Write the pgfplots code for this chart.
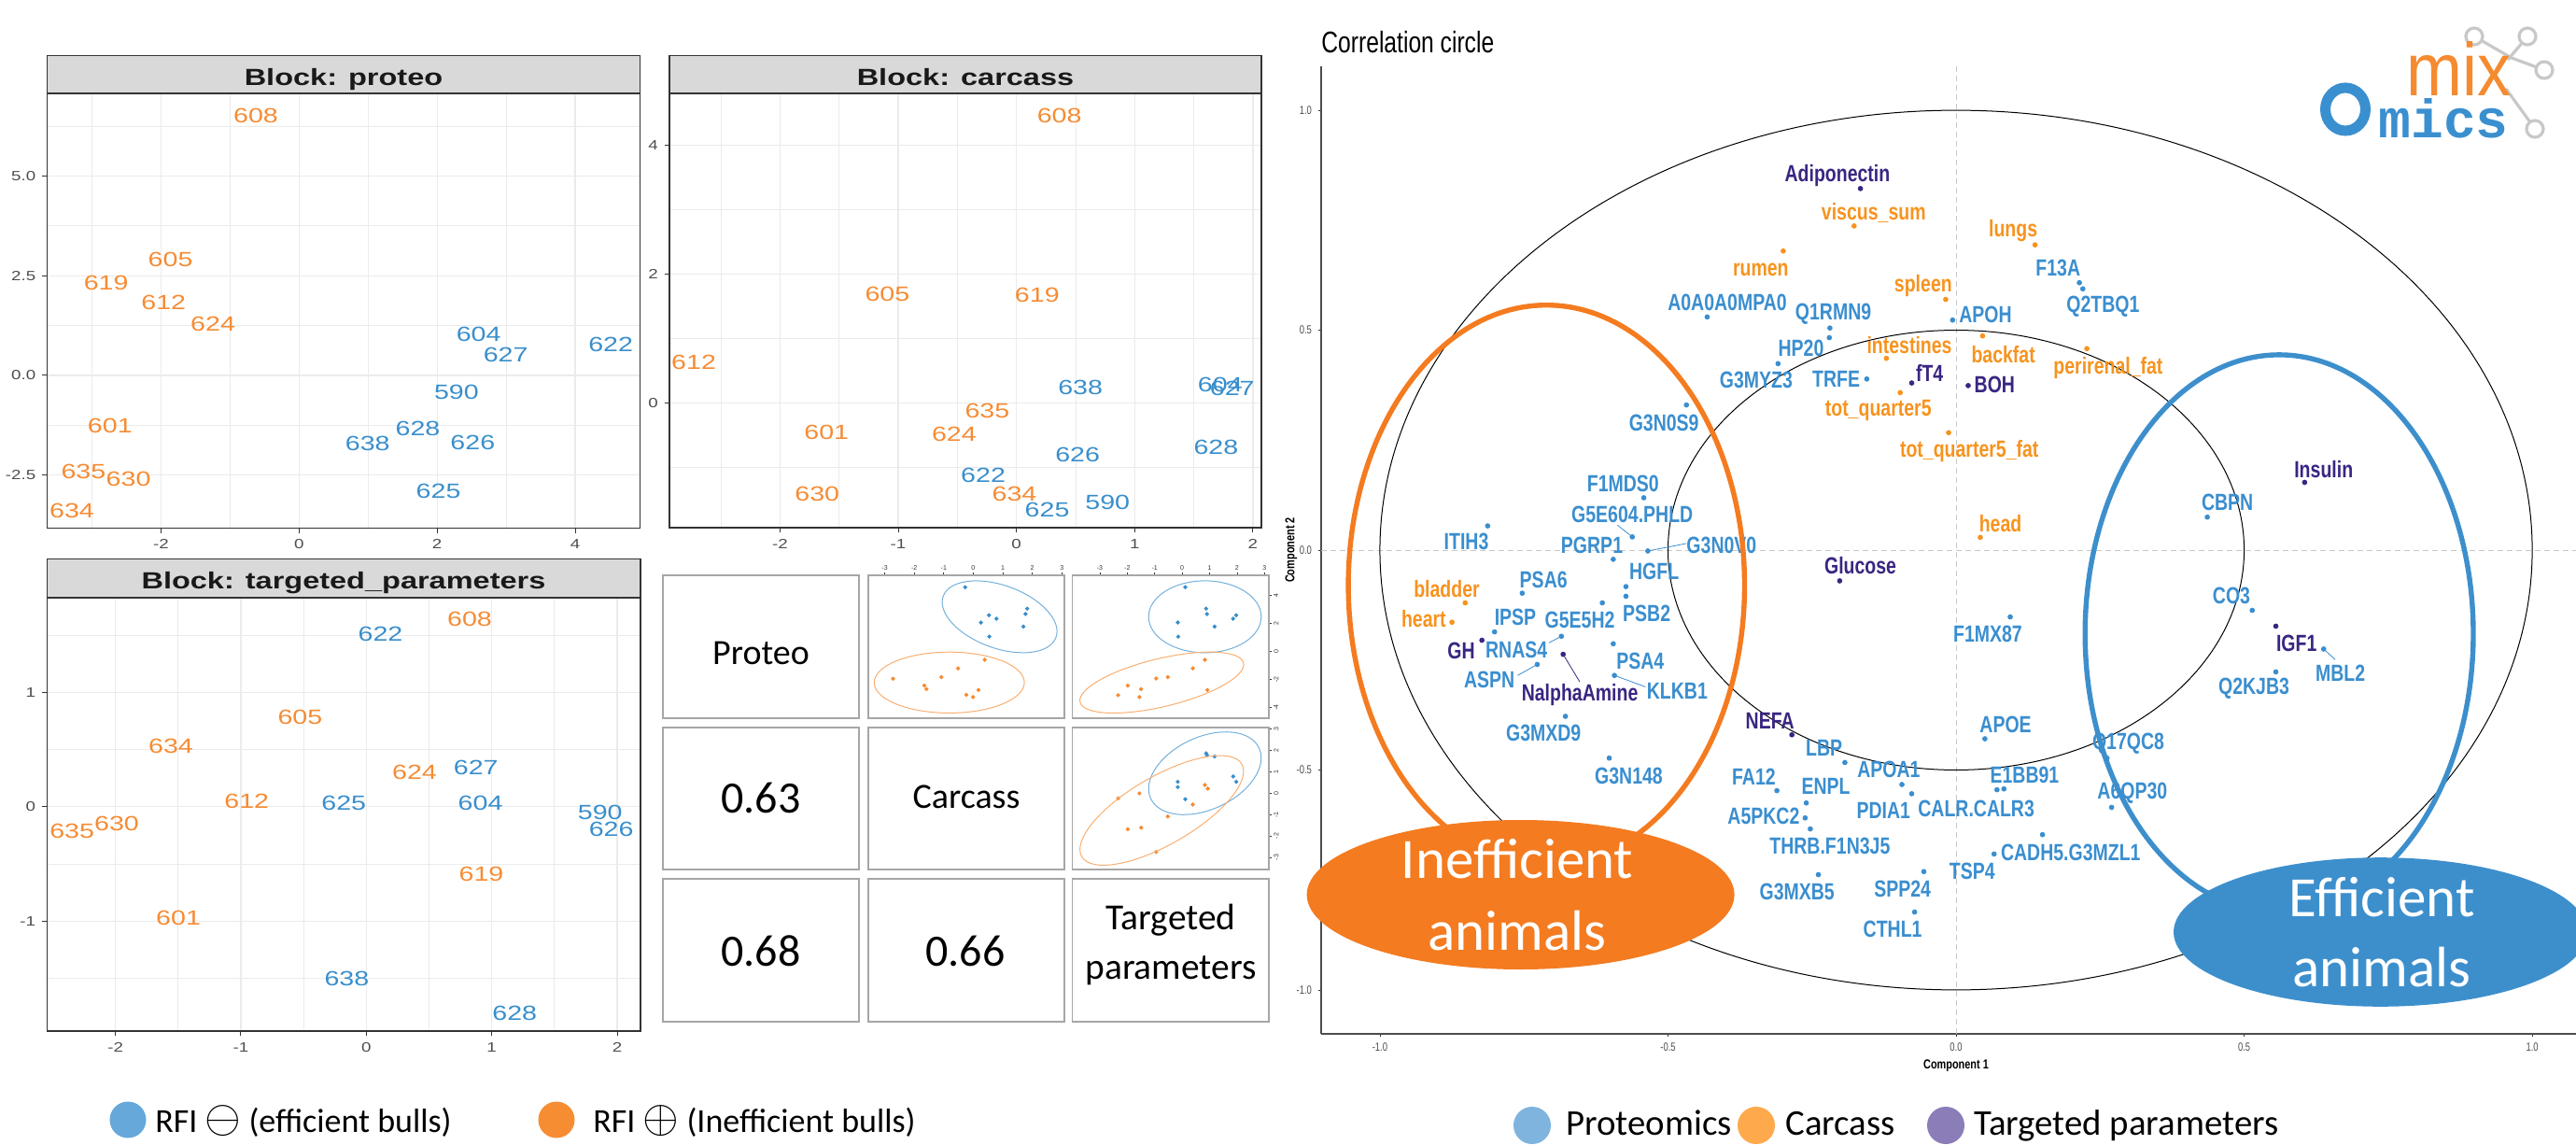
\documentclass[border=0pt]{standalone}
\usepackage{fontspec}
\usepackage{pgfplots}
\pgfplotsset{compat=1.18}
\setmainfont{Liberation Sans}
\newfontfamily\wideF{Liberation Sans}[FakeStretch=1.3]
\newfontfamily\narF{Liberation Sans}[FakeStretch=0.78]
\newfontfamily\tinyF{Liberation Sans}[FakeStretch=0.75]
\newfontfamily\titF{Liberation Sans}[FakeStretch=0.77]
\newfontfamily\calF{Carlito}
\newfontfamily\monoF{Liberation Mono}
\newfontfamily\mixF{Liberation Sans}[FakeStretch=0.9]
\definecolor{mblue}{HTML}{388ECC}
\definecolor{morange}{HTML}{F68B33}
\definecolor{lblue}{HTML}{3A8ECF}
\definecolor{lorange}{HTML}{F7931E}
\definecolor{lpurple}{HTML}{3A2581}
\definecolor{c333}{HTML}{333333}
\definecolor{c4d}{HTML}{4D4D4D}
\definecolor{gridc}{HTML}{EBEBEB}
\definecolor{stripc}{HTML}{D9D9D9}
\definecolor{cellc}{HTML}{A6A6A6}
\definecolor{eorange}{HTML}{F47B20}
\definecolor{eblue}{HTML}{3D8FCC}
\definecolor{dashc}{HTML}{C8C8C8}
\definecolor{legpb}{HTML}{7FB4DE}
\definecolor{legco}{HTML}{FFA94D}
\definecolor{legtp}{HTML}{8B7DB8}
\definecolor{legeb}{HTML}{66A8DA}
\definecolor{legio}{HTML}{F78D33}
\definecolor{logog}{HTML}{C8C8C8}
\definecolor{logob}{HTML}{3A8FCF}
\definecolor{logoo}{HTML}{F58B30}
\pgfplotsset{
 ggpanel/.style={anchor=north west, scale only axis,
   axis line style={draw=c333, line width=0.75pt},
   grid=both, major grid style={draw=gridc, line width=0.6pt},
   minor grid style={draw=gridc, line width=0.35pt},
   tick align=outside, tick pos=left, major tick length=2.6pt, minor tick length=0pt,
   tick style={draw=c333, line width=0.5pt},
   ticklabel style={font=\wideF\fontsize{7.2}{8}\selectfont, text=c4d}},
 samp/.style={draw=none, mark=none, nodes near coords, point meta=explicit symbolic,
   nodes near coords align=center,
   every node near coord/.append style={text=#1, inner sep=0pt, font=\wideF\fontsize{11}{13}\selectfont}},
 clab/.style={draw=none, mark=none, nodes near coords, point meta=explicit symbolic,
   nodes near coords align=center,
   every node near coord/.append style={text=#1, inner sep=0pt, font=\narF\bfseries\fontsize{12.5}{14}\selectfont}},
 cdot/.style={only marks, mark=*, mark size=1.2pt, color=#1},
 mini/.style={anchor=north west, scale only axis, tick align=outside, major tick length=1.5pt,
   tick style={draw=c333, line width=0.4pt}, axis line style={draw=c333, line width=0.4pt},
   ticklabel style={font=\fontsize{3.5}{4}\selectfont, text=c333, inner sep=1pt}, clip=false},
 mdot/.style={only marks, mark=*, mark size=0.9pt, color=#1},
}
\begin{document}
\begin{tikzpicture}
\path[use as bounding box] (0,0) rectangle (1379.5pt,-613pt);

% ---------------- Block: proteo
\begin{axis}[ggpanel, at={(25.25pt,-50pt)}, width=317.5pt, height=232.75pt,
 xmin=-3.65, xmax=4.94, ymin=-3.83, ymax=7.07,
 xtick={-2,0,2,4}, xticklabels={-2,0,2,4}, minor xtick={-3,-1,1,3},
 ytick={-2.5,0,2.5,5}, yticklabels={-2.5,0.0,2.5,5.0}, minor ytick={-1.25,1.25,3.75,6.25}]
\addplot[samp=morange] coordinates {(-0.627,6.52)[608] (-1.863,2.903)[605] (-2.795,2.315)[619] (-1.963,1.815)[612] (-1.248,1.282)[624] (-2.739,-1.274)[601] (-3.124,-2.403)[635] (-2.472,-2.605)[630] (-3.292,-3.387)[634]};
\addplot[samp=mblue] coordinates {(2.602,1.040)[604] (2.994,0.516)[627] (4.516,0.782)[622] (2.280,-0.411)[590] (1.720,-1.331)[628] (0.994,-1.718)[638] (2.516,-1.677)[626] (2.019,-2.911)[625]};
\end{axis}

% ---------------- Block: carcass
\begin{axis}[ggpanel, at={(358.5pt,-50pt)}, width=317pt, height=232.5pt,
 xmin=-2.935, xmax=2.072, ymin=-1.94, ymax=4.80,
 xtick={-2,-1,0,1,2}, xticklabels={-2,-1,0,1,2}, minor xtick={-2.5,-1.5,-0.5,0.5,1.5},
 ytick={0,2,4}, yticklabels={0,2,4}, minor ytick={-1,1,3}]
\addplot[samp=morange] coordinates {(0.363,4.450)[608] (-1.092,1.687)[605] (0.175,1.671)[619] (-2.729,0.621)[612] (-0.247,-0.124)[635] (-1.606,-0.461)[601] (-0.527,-0.492)[624] (-1.685,-1.423)[630] (-0.017,-1.423)[634]};
\addplot[samp=mblue] coordinates {(0.541,0.238)[638] (1.723,0.274)[604] (1.825,0.222)[627] (0.517,-0.802)[626] (1.688,-0.699)[628] (-0.281,-1.133)[622] (0.260,-1.666)[625] (0.771,-1.547)[590]};
\end{axis}

% ---------------- Block: targeted_parameters
\begin{axis}[ggpanel, at={(25.2pt,-320pt)}, width=317.8pt, height=232pt,
 xmin=-2.545, xmax=2.186, ymin=-1.962, ymax=1.828,
 xtick={-2,-1,0,1,2}, xticklabels={-2,-1,0,1,2}, minor xtick={-1.5,-0.5,0.5,1.5},
 ytick={-1,0,1}, yticklabels={-1,0,1}, minor ytick={-1.5,-0.5,0.5,1.5}]
\addplot[samp=morange] coordinates {(0.824,1.641)[608] (-0.528,0.787)[605] (-1.558,0.534)[634] (0.385,0.300)[624] (-0.953,0.050)[612] (-2.346,-0.210)[635] (-1.990,-0.146)[630] (0.917,-0.589)[619] (-1.498,-0.971)[601]};
\addplot[samp=mblue] coordinates {(0.113,1.507)[622] (0.874,0.341)[627] (-0.179,0.029)[625] (0.910,0.029)[604] (1.864,-0.050)[590] (1.953,-0.195)[626] (-0.156,-1.507)[638] (1.183,-1.808)[628]};
\end{axis}

% ---------------- mini scatter (1,2)
\begin{axis}[mini, at={(465pt,-308pt)}, width=105pt, height=76.5pt,
 xmin=-3.557, xmax=3.089, ymin=-4.78, ymax=5.42,
 axis x line*=top, axis y line=none, xtick={-3,-2,-1,0,1,2,3}, xticklabels={-3,-2,-1,0,1,2,3}, ytick=\empty]
\addplot[mdot=mblue] coordinates {(-0.275,4.57) (0.53,2.57) (0.784,2.32) (0.261,2.05) (0.544,1.04) (1.828,3.04) (1.772,2.66) (1.70,1.76)};
\addplot[mdot=morange] coordinates {(-2.718,-1.96) (-1.659,-2.45) (-1.588,-2.70) (-1.08,-1.85) (-0.515,-1.22) (0.388,-0.61) (0.177,-2.77) (-0.233,-3.11) (-0.007,-3.27)};
\end{axis}

% ---------------- mini scatter (1,3)
\begin{axis}[mini, at={(574.25pt,-308pt)}, width=105.25pt, height=76.5pt,
 xmin=-4.0, xmax=3.16, ymin=-4.78, ymax=5.42,
 axis x line*=top, axis y line*=right, xtick={-3,-2,-1,0,1,2,3}, xticklabels={-3,-2,-1,0,1,2,3},
 ytick={-4,-2,0,2,4}, yticklabels={-4,-2,0,2,4}, yticklabel style={rotate=90, anchor=north}]
\addplot[mdot=mblue] coordinates {(0.115,4.57) (0.875,3.04) (0.906,2.66) (-0.158,2.05) (1.18,1.76) (1.97,2.57) (1.86,2.32) (-0.143,1.04)};
\addplot[mdot=morange] coordinates {(0.83,-0.61) (0.389,-1.22) (-0.523,-1.85) (-0.948,-1.94) (-1.98,-2.45) (-1.495,-2.70) (-2.33,-3.13) (-1.556,-3.27) (0.92,-2.77)};
\end{axis}

% ---------------- mini scatter (2,3)
\begin{axis}[mini, at={(574.25pt,-389.5pt)}, width=105.25pt, height=76pt,
 xmin=-4.0, xmax=3.16, ymin=-3.56, ymax=3.06,
 axis x line=none, axis y line*=right, xtick=\empty,
 ytick={-3,-2,-1,0,1,2,3}, yticklabels={-3,-2,-1,0,1,2,3}, yticklabel style={rotate=90, anchor=north}]
\addplot[mdot=mblue] coordinates {(0.875,1.86) (0.906,1.78) (1.18,1.71) (-0.158,0.53) (-0.158,0.28) (0.115,-0.28) (1.86,0.78) (1.97,0.53)};
\addplot[mdot=morange] coordinates {(-2.33,-0.24) (-1.556,-0.01) (0.83,0.38) (0.935,0.21) (0.389,-0.53) (-0.523,-1.09) (-1.98,-1.68) (-1.495,-1.61) (-0.948,-2.74)};
\end{axis}

% ---------------- Correlation circle
\begin{axis}[at={(707.5pt,-35.5pt)}, anchor=north west, scale only axis, width=672pt, height=518pt,
 xmin=-1.102, xmax=1.076, ymin=-1.1, ymax=1.1,
 axis x line*=bottom, axis y line*=left, axis line style={draw=c4d, line width=0.8pt},
 xtick={-1,-0.5,0,0.5,1}, xticklabels={-1.0,-0.5,0.0,0.5,1.0},
 ytick={-1,-0.5,0,0.5,1}, yticklabels={-1.0,-0.5,0.0,0.5,1.0},
 tick align=outside, major tick length=1.5pt, tick style={draw=c333, line width=0.4pt},
 ticklabel style={font=\tinyF\fontsize{6.3}{7}\selectfont, text=c4d}]
\addplot[dashc, line width=0.5pt, dash pattern=on 3pt off 2pt] coordinates {(0,-1.1) (0,1.1)};
\addplot[dashc, line width=0.5pt, dash pattern=on 3pt off 2pt] coordinates {(-1.102,0) (1.076,0)};
\draw[black, line width=0.5pt] (axis cs:0,0) ellipse [x radius=308.54pt, y radius=235.45pt];
\draw[black, line width=0.5pt] (axis cs:0,0) ellipse [x radius=154.27pt, y radius=117.73pt];
% leader lines
\addplot[lblue, line width=0.4pt] coordinates {(-0.588,0.057) (-0.562,0.030)};
\addplot[lblue, line width=0.4pt] coordinates {(-0.468,0.015) (-0.535,-0.002)};
\addplot[lblue, line width=0.4pt] coordinates {(-0.707,-0.211) (-0.685,-0.196)};
\addplot[lblue, line width=0.4pt] coordinates {(-0.761,-0.285) (-0.727,-0.260)};
\addplot[lpurple, line width=0.4pt] coordinates {(-0.653,-0.300) (-0.682,-0.237)};
\addplot[lblue, line width=0.4pt] coordinates {(-0.539,-0.311) (-0.593,-0.285)};
\addplot[lblue, line width=0.4pt] coordinates {(0.658,-0.249) (0.638,-0.225)};
% proteomics dots
\addplot[cdot=lblue] coordinates {(-0.432,0.530) (-0.219,0.505) (-0.220,0.483) (-0.309,0.424) (-0.155,0.389) (-0.006,0.523) (0.214,0.608) (0.220,0.594) (-0.468,0.330) (-0.542,0.119) (-0.562,0.030) (-0.813,0.055) (-0.595,-0.021) (-0.535,-0.002) (-0.573,-0.083) (-0.753,-0.098) (-0.573,-0.105) (-0.801,-0.186) (-0.614,-0.120) (-0.685,-0.196) (-0.595,-0.213) (-0.727,-0.260) (-0.593,-0.285) (-0.678,-0.378) (-0.602,-0.473) (0.436,0.075) (0.094,-0.152) (0.514,-0.137) (0.638,-0.225) (0.555,-0.277) (0.050,-0.429) (0.262,-0.473) (-0.193,-0.483) (-0.094,-0.533) (0.083,-0.543) (-0.311,-0.547) (-0.260,-0.575) (-0.077,-0.554) (0.071,-0.545) (0.270,-0.585) (-0.262,-0.609) (-0.253,-0.634) (0.150,-0.647) (0.066,-0.691) (-0.056,-0.731) (-0.239,-0.738) (-0.072,-0.823)};
\addplot[clab=lblue] coordinates {(-0.397,0.562)[A0A0A0MPA0] (-0.213,0.536)[Q1RMN9] (-0.269,0.458)[HP20] (-0.347,0.386)[G3MYZ3] (-0.208,0.389)[TRFE] (0.051,0.535)[APOH] (0.177,0.641)[F13A] (0.255,0.553)[Q2TBQ1] (-0.507,0.289)[G3N0S9] (-0.578,0.150)[F1MDS0] (-0.562,0.080)[G5E604.PHLD] (-0.850,0.019)[ITIH3] (-0.632,0.011)[PGRP1] (-0.407,0.011)[G3N0V0] (-0.524,-0.049)[HGFL] (-0.716,-0.067)[PSA6] (-0.537,-0.144)[PSB2] (-0.765,-0.153)[IPSP] (-0.653,-0.160)[G5E5H2] (-0.763,-0.228)[RNAS4] (-0.548,-0.253)[PSA4] (-0.810,-0.294)[ASPN] (-0.484,-0.321)[KLKB1] (-0.716,-0.417)[G3MXD9] (-0.568,-0.514)[G3N148] (0.471,0.109)[CBPN] (0.055,-0.190)[F1MX87] (0.478,-0.103)[CO3] (0.667,-0.279)[MBL2] (0.517,-0.315)[Q2KJB3] (0.086,-0.397)[APOE] (0.299,-0.439)[Q17QC8] (-0.229,-0.451)[LBP] (-0.117,-0.498)[APOA1] (0.119,-0.511)[E1BB91] (-0.351,-0.516)[FA12] (-0.226,-0.537)[ENPL] (-0.126,-0.592)[PDIA1] (0.035,-0.588)[CALR.CALR3] (0.306,-0.552)[A6QP30] (-0.334,-0.605)[A5PKC2] (-0.219,-0.672)[THRB.F1N3J5] (0.199,-0.687)[CADH5.G3MZL1] (0.028,-0.731)[TSP4] (-0.093,-0.771)[SPP24] (-0.276,-0.778)[G3MXB5] (-0.110,-0.862)[CTHL1]};
% carcass
\addplot[cdot=lorange] coordinates {(-0.177,0.737) (-0.300,0.680) (0.137,0.694) (-0.018,0.570) (-0.121,0.436) (0.046,0.487) (0.227,0.458) (-0.097,0.358) (-0.013,0.267) (0.042,0.029) (-0.852,-0.120) (-0.875,-0.164)};
\addplot[clab=lorange] coordinates {(-0.143,0.767)[viscus\_sum] (-0.339,0.638)[rumen] (0.099,0.726)[lungs] (-0.057,0.600)[spleen] (-0.081,0.467)[intestines] (0.082,0.444)[backfat] (0.264,0.413)[perirenal\_fat] (-0.135,0.318)[tot\_quarter5] (0.023,0.225)[tot\_quarter5\_fat] (0.077,0.060)[head] (-0.884,-0.089)[bladder] (-0.924,-0.156)[heart]};
% targeted parameters
\addplot[cdot=lpurple] coordinates {(-0.166,0.822) (-0.077,0.380) (0.021,0.374) (0.605,0.154) (-0.202,-0.070) (-0.823,-0.205) (-0.682,-0.237) (0.555,-0.173) (-0.285,-0.420)};
\addplot[clab=lpurple] coordinates {(-0.206,0.852)[Adiponectin] (-0.046,0.402)[fT4] (0.067,0.377)[BOH] (0.638,0.184)[Insulin] (-0.166,-0.036)[Glucose] (-0.859,-0.230)[GH] (-0.653,-0.329)[NalphaAmine] (0.591,-0.212)[IGF1] (-0.323,-0.389)[NEFA]};
\end{axis}

% ---------------- decorations in pixel units
\begin{scope}[x=0.5pt, y=-0.5pt]
% strips
\draw[fill=stripc, draw=c333, line width=0.75pt] (50.5,59.3) rectangle (685.5,100);
\node[anchor=base, inner sep=0, font=\wideF\bfseries\fontsize{12.5}{14}\selectfont, text=black!90] at (368,91.3) {Block: proteo};
\draw[fill=stripc, draw=c333, line width=0.75pt] (717,59.6) rectangle (1351,100);
\node[anchor=base, inner sep=0, font=\wideF\bfseries\fontsize{12.5}{14}\selectfont, text=black!90] at (1034,91.8) {Block: carcass};
\draw[fill=stripc, draw=c333, line width=0.75pt] (50.4,598.6) rectangle (686,640);
\node[anchor=base, inner sep=0, font=\wideF\bfseries\fontsize{12.5}{14}\selectfont, text=black!90] at (368,630) {Block: targeted\_parameters};
% correlation matrix cells
\foreach \xa/\xb in {710/920, 930/1140, 1148.5/1359}{
 \foreach \ya/\yb in {616/769, 779/931, 941/1094}{
  \draw[cellc, line width=0.7pt] (\xa,\ya) rectangle (\xb,\yb);
 }}
\node[anchor=base, inner sep=0, font=\calF\fontsize{19}{22}\selectfont] at (815,711.7) {Proteo};
\node[anchor=base, inner sep=0, font=\calF\fontsize{24}{26}\selectfont] at (815,870.6) {0.63};
\node[anchor=base, inner sep=0, font=\calF\fontsize{19}{22}\selectfont] at (1035,865.5) {Carcass};
\node[anchor=base, inner sep=0, font=\calF\fontsize{24}{26}\selectfont] at (815,1034.6) {0.68};
\node[anchor=base, inner sep=0, font=\calF\fontsize{24}{26}\selectfont] at (1034,1034.6) {0.66};
\node[anchor=base, inner sep=0, font=\calF\fontsize{19.7}{22}\selectfont] at (1254,995.7) {Targeted};
\node[anchor=base, inner sep=0, font=\calF\fontsize{19.7}{22}\selectfont] at (1254,1048) {parameters};
% mini ellipses
\draw[mblue!70, line width=0.5pt, rotate around={-20:(1070.6,660.4)}] (1070.6,660.4) ellipse [x radius=32.15pt, y radius=16.8pt];
\draw[morange!70, line width=0.5pt] (1016.7,730.8) ellipse [x radius=40.2pt, y radius=16.3pt];
\draw[mblue!70, line width=0.5pt] (1290.5,660.4) ellipse [x radius=30.15pt, y radius=19.25pt];
\draw[morange!70, line width=0.5pt, rotate around={13.5:(1244.3,730.8)}] (1244.3,730.8) ellipse [x radius=45pt, y radius=12.85pt];
\draw[mblue!70, line width=0.5pt, rotate around={25:(1290.5,828)}] (1290.5,828) ellipse [x radius=32pt, y radius=19.35pt];
\draw[morange!70, line width=0.5pt, rotate around={30:(1244.3,867.7)}] (1244.3,867.7) ellipse [x radius=49.5pt, y radius=18.2pt];
% correlation circle title and axis labels
\node[anchor=base west, inner sep=0, font=\titF\fontsize{16}{18}\selectfont] at (1415,56) {Correlation circle};
\node[anchor=center, inner sep=0, font=\narF\bfseries\fontsize{7}{8}\selectfont] at (2095,1141) {Component 1};
\node[anchor=center, inner sep=0, rotate=90, font=\narF\bfseries\fontsize{7}{8}\selectfont] at (1383,589) {Component 2};
% outline ellipses
\draw[eorange, line width=2.7pt] (1656.3,626.7) ellipse [x radius=106.1pt, y radius=150pt];
\draw[eblue, line width=2.7pt] (2441.1,678.5) ellipse [x radius=103.95pt, y radius=149.3pt];
% filled ellipses
\fill[eorange] (1628.6,958) ellipse [x radius=114.5pt, y radius=40pt];
\node[anchor=base, inner sep=0, text=white, font=\calF\fontsize{30.5}{34}\selectfont] at (1625,940) {Inefficient};
\node[anchor=base, inner sep=0, text=white, font=\calF\fontsize{30.5}{34}\selectfont] at (1625,1017) {animals};
\fill[eblue] (2549.6,998) ellipse [x radius=110.8pt, y radius=39.9pt];
\node[anchor=base, inner sep=0, text=white, font=\calF\fontsize{30.5}{34}\selectfont] at (2551,981) {Efficient};
\node[anchor=base, inner sep=0, text=white, font=\calF\fontsize{30.5}{34}\selectfont] at (2551,1056) {animals};
% logo
\draw[logog, line width=1.6pt] (2650,39) -- (2690,62) -- (2725,75);
\draw[logog, line width=1.6pt] (2707,39) -- (2686,64);
\draw[logog, line width=1.6pt] (2684,95) -- (2715,138);
\foreach \cx/\cy in {2650/39, 2707/39, 2725/75, 2715/138}{
 \draw[logog, line width=1.6pt, fill=white] (\cx,\cy) circle [radius=9];
}
\node[anchor=base west, inner sep=0, text=logoo, font=\mixF\fontsize{40}{40}\selectfont] at (2577,102) {mix};
\draw[logob, line width=5.5pt] (2512,117) ellipse [x radius=10.75pt, y radius=11.5pt];
\node[anchor=base west, inner sep=0, text=logob, font=\monoF\bfseries\fontsize{29}{29}\selectfont] at (2547,147) {mics};
% legends
\fill[legeb] (137,1199) circle [radius=19.5];
\node[anchor=base west, inner sep=0, font=\calF\fontsize{18}{20}\selectfont] at (166,1212) {RFI {\fontsize{23}{23}\selectfont$\ominus$} (efficient bulls)};
\fill[legio] (596,1199) circle [radius=19.5];
\node[anchor=base west, inner sep=0, font=\calF\fontsize{18}{20}\selectfont] at (635,1212) {RFI {\fontsize{23}{23}\selectfont$\oplus$} (Inefficient bulls)};
\fill[legpb] (1641,1205) circle [radius=20];
\node[anchor=base west, inner sep=0, font=\calF\fontsize{19.4}{22}\selectfont] at (1677,1215) {Proteomics};
\fill[legco] (1881,1205) circle [radius=20];
\node[anchor=base west, inner sep=0, font=\calF\fontsize{19.4}{22}\selectfont] at (1912,1215) {Carcass};
\fill[legtp] (2084,1205) circle [radius=20];
\node[anchor=base west, inner sep=0, font=\calF\fontsize{19.4}{22}\selectfont] at (2114,1215) {Targeted parameters};
\end{scope}
\end{tikzpicture}
\end{document}
